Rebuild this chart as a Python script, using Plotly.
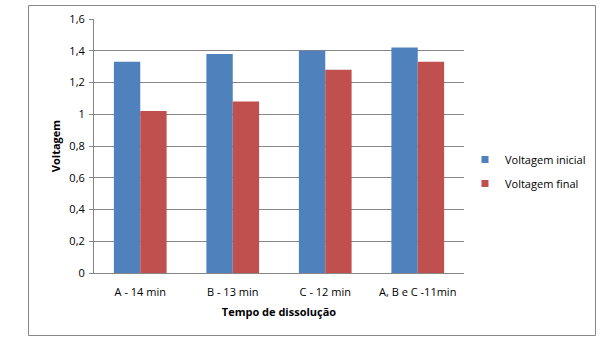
import plotly.graph_objects as go

categories = ["A - 14 min", "B - 13 min", "C - 12 min", "A, B e C -11min"]
voltagem_inicial = [1.33, 1.38, 1.40, 1.42]
voltagem_final = [1.02, 1.08, 1.28, 1.33]
y_tickvals = [0, 0.2, 0.4, 0.6, 0.8, 1.0, 1.2, 1.4, 1.6]
y_ticktext = ["0", "0,2", "0,4", "0,6", "0,8", "1", "1,2", "1,4", "1,6"]
series_names = ["Voltagem inicial", "Voltagem final"]
series_colors = ["#4F81BD", "#C0504D"]

FONT = "Open Sans"
fig = go.Figure()
for name, vals, col in zip(series_names, [voltagem_inicial, voltagem_final], series_colors):
    fig.add_trace(go.Bar(x=categories, y=vals, name=name, showlegend=False,
                         marker=dict(color=col, line=dict(width=0))))
# legend entries with small square markers
for i, (name, col) in enumerate(zip(series_names, series_colors)):
    fig.add_trace(go.Scatter(x=[None], y=[None], mode="markers", name=name,
                             legendgroup=f"g{i}",
                             marker=dict(symbol="square", size=7, color=col)))

L, R, T, B = 94, 464, 19, 273
W, H = 608, 346
pw, ph = R - L, B - T

def px(x):
    return (x - L) / pw

def py(y):
    return (B - y) / ph

fig.update_layout(
    width=W, height=H,
    margin=dict(l=L, r=W - R, t=T, b=H - B, pad=0),
    paper_bgcolor="white", plot_bgcolor="white",
    barmode="group", bargap=0.43, bargroupgap=0,
    font=dict(family=FONT, size=11, color="#000000"),
    showlegend=True,
    legend=dict(x=px(465), y=py(145), xanchor="left", yanchor="top",
                font=dict(family=FONT, size=11, color="#000000"),
                tracegroupgap=5, itemwidth=30, bgcolor="rgba(0,0,0,0)"),
    xaxis=dict(showgrid=False, showline=True, linecolor="#868686", linewidth=1,
               ticks="", tickfont=dict(family=FONT, size=11), ticklabelstandoff=9,
               title=dict(text="<b>Tempo de dissolução</b>", font=dict(family=FONT, size=11), standoff=10)),
    yaxis=dict(range=[0, 1.6], tickvals=y_tickvals, ticktext=y_ticktext,
               showgrid=True, gridcolor="#868686", gridwidth=1,
               showline=True, linecolor="#868686", linewidth=1,
               ticks="outside", ticklen=4, tickcolor="#868686",
               tickfont=dict(family=FONT, size=11), ticklabelstandoff=2,
               title=dict(text="<b>Voltagem</b>", font=dict(family=FONT, size=11), standoff=6),
               zeroline=False),
    shapes=[dict(type="rect", xref="paper", yref="paper",
                 x0=px(28.5), x1=px(595.5), y0=py(335.5), y1=py(5.5),
                 line=dict(color="#868686", width=1), fillcolor="rgba(0,0,0,0)", layer="below")],
)

fig.write_html("out.html")
